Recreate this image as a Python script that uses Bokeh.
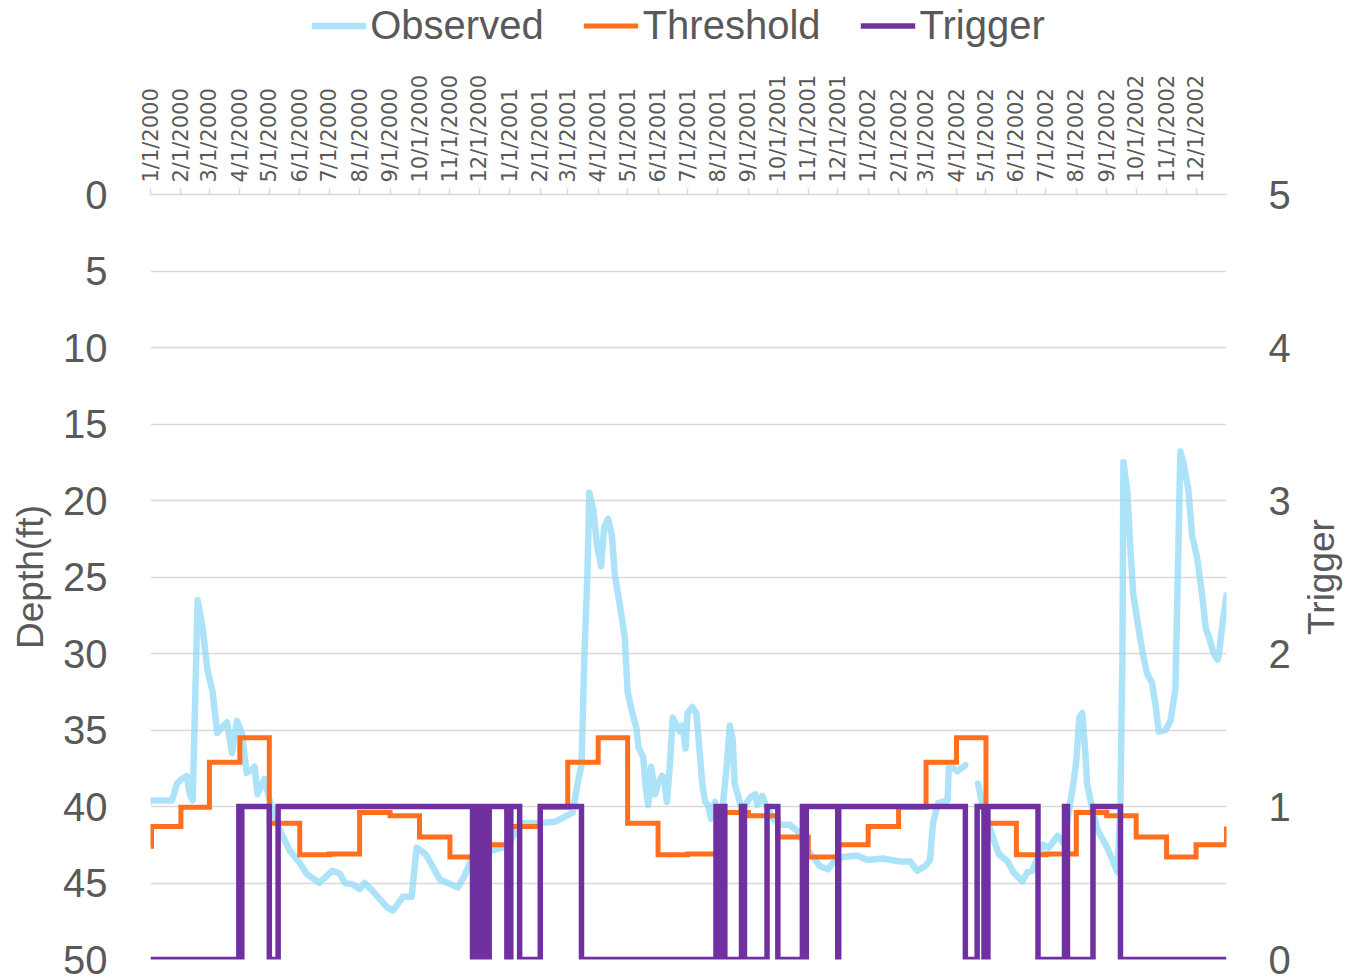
import math
import pandas as pd
from bokeh.plotting import figure
from bokeh.layouts import column, row
from bokeh.models import Range1d, LinearAxis, FixedTicker, Legend, LegendItem, Label
from bokeh.embed import file_html
from bokeh.resources import INLINE

# ---------------- data ----------------
# days since 1/1/2000
obs_day = [0, 22, 27, 32, 37, 40, 43, 48, 53, 58, 63, 68, 73, 78, 83, 88, 93, 98, 103, 106,
           109, 116, 123, 132, 142, 152, 159, 172, 185, 193, 198, 206, 213, 218, 226, 241, 247,
           257, 266, 271, 276, 281, 288, 295, 303, 313, 320, 328, 346, 363, 369, 376, 394, 412,
           430, 435, 439, 442, 445, 447, 451, 455, 459, 462, 466, 470, 473, 478, 483, 486, 490,
           495, 497, 502, 504, 507, 510, 514, 517, 521, 523, 526, 529, 532, 536, 539, 542, 545,
           547, 552, 556, 558, 562, 565, 568, 571, 575, 578, 583, 587, 590, 593, 595, 599, 603,
           606, 611, 616, 618, 623, 626, 634, 643, 651, 659, 669, 682, 690, 695, 705, 720, 730,
           746, 764, 774, 781, 789, 794, 797, 802, 812, 813, 818, 822, 830, 836, 843, 848, 858,
           864, 873, 879, 888, 893, 898, 904, 909, 915, 924, 930, 940, 943, 946, 949, 952, 954,
           959, 965, 973, 978, 985, 988, 990, 991, 995, 998, 1001, 1006, 1011, 1015, 1020, 1024,
           1027, 1034, 1039, 1044, 1047, 1049, 1052, 1057, 1061, 1066, 1071, 1075, 1078, 1083,
           1087, 1088, 1092, 1094, 1096]
obs_depth = [39.6, 39.6, 38.5, 38.2, 38.0, 39.2, 39.6, 26.5, 28.3, 31.1, 32.4, 35.2, 34.8, 34.5,
             36.5, 34.4, 35.2, 37.8, 37.6, 37.4, 39.2, 38.2, 40.0, 41.6, 42.9, 43.7, 44.4, 45.0,
             44.2, 44.4, 45.0, 45.1, 45.4, 45.0, 45.5, 46.6, 46.8, 45.9, 45.9, 42.7, 42.9, 43.2,
             44.0, 44.8, 45.0, 45.3, 44.5, 43.3, 42.9, 42.6, 42.0, 41.1, 41.1, 41.0, 40.4, 38.5,
             37.3, 30.1, 24.9, 19.5, 20.6, 23.0, 24.3, 21.8, 21.2, 22.3, 24.9, 26.8, 28.9, 32.5,
             33.7, 34.9, 36.1, 36.8, 38.5, 39.9, 37.4, 39.2, 38.5, 38.0, 38.1, 39.7, 37.3, 34.2,
             34.7, 35.1, 34.7, 36.2, 33.9, 33.5, 33.9, 35.4, 38.5, 39.7, 39.9, 40.8, 39.7, 40.4,
             39.9, 37.3, 34.7, 35.6, 38.5, 39.4, 40.4, 39.9, 39.4, 39.2, 39.9, 39.3, 39.8, 40.8,
             41.2, 41.2, 41.6, 42.8, 43.9, 44.1, 43.7, 43.3, 43.2, 43.5, 43.4, 43.6, 43.6, 44.2,
             43.9, 43.5, 41.1, 39.8, 39.6, 37.5, 37.5, 37.7, 37.3, float("nan"), 38.5, 40.1, 42.0,
             43.1, 43.6, 44.3, 44.9, 44.3, 44.2, 43.3, 42.5, 42.7, 41.9, 42.4, 38.5, 37.0, 34.2,
             33.9, 36.3, 38.5, 40.1, 41.6, 42.5, 43.2, 44.3, 39.6, 30.0, 17.5, 19.4, 23.0, 26.1,
             28.2, 30.1, 31.3, 31.9, 33.5, 35.1, 35.0, 34.4, 32.3, 23.0, 16.8, 17.5, 19.2, 22.3,
             23.7, 26.1, 28.4, 28.9, 30.0, 30.4, 30.2, 28.0, 27.1, 26.2]

# threshold: one value per month (Jan 2000 ... Jan 2003), first day carries previous value
thr_first_day = 42.6
thr_month = ["2000-01", "2000-02", "2000-03", "2000-04", "2000-05", "2000-06", "2000-07",
             "2000-08", "2000-09", "2000-10", "2000-11", "2000-12",
             "2001-01", "2001-02", "2001-03", "2001-04", "2001-05", "2001-06", "2001-07",
             "2001-08", "2001-09", "2001-10", "2001-11", "2001-12",
             "2002-01", "2002-02", "2002-03", "2002-04", "2002-05", "2002-06", "2002-07",
             "2002-08", "2002-09", "2002-10", "2002-11", "2002-12", "2003-01"]
thr_value = [41.3, 40.05, 37.1, 35.5, 41.1, 43.15, 43.1, 40.4, 40.6, 42.0, 43.3, 42.5,
             41.3, 40.05, 37.1, 35.5, 41.1, 43.15, 43.1, 40.4, 40.6, 42.0, 43.3, 42.5,
             41.3, 40.05, 37.1, 35.5, 41.1, 43.15, 43.1, 40.4, 40.6, 42.0, 43.3, 42.5,
             41.3]

# trigger changes: (day since 1/1/2000, new value)
trig_day = [0, 90, 92, 93, 121, 130, 328, 332, 334, 336, 338, 341, 343, 345, 363, 367, 376,
            397, 439, 576, 579, 581, 585, 602, 605, 628, 639, 664, 666, 668, 700, 701, 830, 842,
            849, 853, 904, 931, 934, 960, 988, 1096]
trig_value = [0, 1, 0, 1, 0, 1, 0, 1, 0, 1, 0, 1, 0, 1, 0, 1, 0,
              1, 0, 1, 0, 1, 0, 1, 0, 1, 0, 1, 0, 1, 0, 1, 0, 1,
              0, 1, 0, 1, 0, 1, 0, 0]

series_names = ["Observed", "Threshold", "Trigger"]
series_colors = ["#8ed8f5", "#ff6f1e", "#7030a0"]
series_alpha = [0.72, 1.0, 1.0]
series_width = [6.5, 5, 5.5]

tick_months = pd.date_range("2000-01-01", "2002-12-01", freq="MS")
depth_ticks = [0, 5, 10, 15, 20, 25, 30, 35, 40, 45, 50]
trigger_ticks = [0, 1, 2, 3, 4, 5]

# ---------------- build ----------------
start = pd.Timestamp("2000-01-01")
tick_days = [int((d - start).days) for d in tick_months]
tick_labels = {td: f"{d.month}/{d.day}/{d.year}" for td, d in zip(tick_days, tick_months)}

thr_x = [0] + [int((pd.Timestamp(m + "-01") - start).days) for m in thr_month]
thr_x[1] = 1
thr_y = [thr_first_day] + thr_value

TXT = "#595959"
GRID = "#d9d9d9"
FW, FH = 1076, 765
XMAX = 1096
LEFT, RIGHT, STRIP = 150, 72, 46
TOP, BOTTOM = 144, 21
TOTAL_W = LEFT + FW + RIGHT + STRIP
LEG_H = 50

p = figure(frame_width=FW, frame_height=FH, output_backend="svg", toolbar_location=None,
           x_axis_location="above", x_range=Range1d(0, XMAX), y_range=Range1d(50, 0),
           min_border_left=LEFT, min_border_right=RIGHT, min_border_top=TOP,
           min_border_bottom=BOTTOM)
p.extra_y_ranges = {"trig": Range1d(0, 5)}
p.outline_line_color = None
p.background_fill_color = "white"
p.xgrid.grid_line_color = None
p.ygrid.grid_line_color = GRID
p.ygrid.grid_line_width = 1.5
p.ygrid.ticker = FixedTicker(ticks=depth_ticks)

xa = p.xaxis[0]
xa.ticker = FixedTicker(ticks=tick_days)
xa.major_label_overrides = tick_labels
xa.major_label_orientation = math.pi / 2
xa.major_label_text_font = "DejaVu Sans"
xa.major_label_text_font_size = "21px"
xa.major_label_text_color = TXT
xa.axis_line_color = GRID
xa.axis_line_width = 1.5
xa.major_tick_line_color = GRID
xa.major_tick_line_width = 1.5
xa.major_tick_out = 6
xa.major_tick_in = 0
xa.minor_tick_line_color = None
xa.major_label_standoff = 6

ya = p.yaxis[0]
ya.ticker = FixedTicker(ticks=depth_ticks)
ya.axis_line_color = None
ya.major_tick_line_color = None
ya.minor_tick_line_color = None
ya.major_label_text_font = "Liberation Sans"
ya.major_label_text_font_size = "40px"
ya.major_label_text_color = TXT
ya.major_label_standoff = 37
ya.axis_label = "Depth(ft)"
ya.axis_label_text_font = "Liberation Sans"
ya.axis_label_text_font_size = "37px"
ya.axis_label_text_font_style = "normal"
ya.axis_label_text_color = TXT
ya.axis_label_standoff = 9

ra = LinearAxis(y_range_name="trig", ticker=FixedTicker(ticks=trigger_ticks))
ra.axis_line_color = None
ra.major_tick_line_color = None
ra.minor_tick_line_color = None
ra.major_label_text_font = "Liberation Sans"
ra.major_label_text_font_size = "40px"
ra.major_label_text_color = TXT
ra.major_label_standoff = 36
p.add_layout(ra, "right")

p.line(obs_day, obs_depth, line_color=series_colors[0], line_alpha=series_alpha[0],
       line_width=series_width[0], line_join="round", line_cap="round")
p.step(thr_x, thr_y, mode="after", line_color=series_colors[1], line_width=series_width[1],
       line_join="miter")
p.step(trig_day, trig_value, mode="after", line_color=series_colors[2],
       line_width=series_width[2], line_join="miter", y_range_name="trig")

# strip on the right carrying the secondary axis title, reading upward
st = figure(frame_width=STRIP, frame_height=FH, output_backend="svg", toolbar_location=None,
            x_axis_location=None, y_axis_location=None, min_border_left=0,
            min_border_right=0, min_border_top=TOP, min_border_bottom=BOTTOM,
            x_range=Range1d(0, 1), y_range=Range1d(0, 1))
st.outline_line_color = None
st.grid.grid_line_color = None
st.add_layout(Label(x=0.5, y=0.5, text="Trigger", angle=math.pi / 2, text_align="center",
                    text_baseline="middle", text_font="Liberation Sans",
                    text_font_size="37px", text_color=TXT))

# legend strip above the chart
lg = figure(width=TOTAL_W, height=LEG_H, output_backend="svg", toolbar_location=None,
            x_axis_location=None, y_axis_location=None, min_border=0, min_border_left=12,
            x_range=Range1d(0, 1), y_range=Range1d(0, 1))
lg.outline_line_color = None
lg.grid.grid_line_color = None
items = []
for name, col, a, w in zip(series_names, series_colors, series_alpha, series_width):
    r = lg.line([float("nan")], [float("nan")], line_color=col, line_alpha=a, line_width=w)
    items.append(LegendItem(label=name, renderers=[r]))
legend = Legend(items=items, orientation="horizontal", location="center",
                label_text_font="Liberation Sans", label_text_font_size="40px",
                label_text_color=TXT, glyph_width=55, glyph_height=36, label_standoff=4,
                spacing=40, padding=0, margin=0, border_line_color=None,
                background_fill_alpha=0)
lg.add_layout(legend)

layout = column(lg, row(p, st, spacing=0), spacing=0)
open("out.html", "w").write(file_html(layout, INLINE))
